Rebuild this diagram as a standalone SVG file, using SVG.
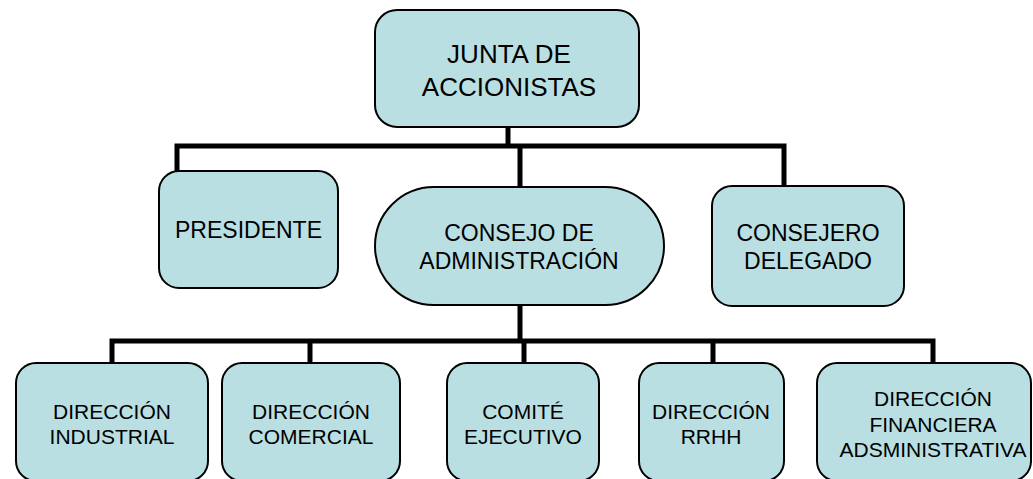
<svg xmlns="http://www.w3.org/2000/svg" width="1033" height="479" viewBox="0 0 1033 479">
<style>
.box{fill:#B9DFE3;stroke:#000;stroke-width:2}
.t{font-family:"Liberation Sans",Arial,sans-serif;fill:#000;text-anchor:middle}
.big{font-size:26px}
.mid{font-size:23px}
.sm{font-size:21px}
.c{stroke:#000;stroke-width:5;fill:none;stroke-linecap:square}
</style>
<rect width="1033" height="479" fill="#fff"/>
<g id="connectors">
<path class="c" d="M508 128V146M177 172V146H784V186M520 146V187"/>
<path class="c" d="M520 306V341M112 363V341H933V363M310 341V363M524 341V363M713 341V363"/>
</g>
<g id="junta">
<rect class="box" x="375" y="10" width="264" height="117" rx="22"/>
<text class="t big" x="509" y="63">JUNTA DE</text>
<text class="t big" x="509" y="96">ACCIONISTAS</text>
</g>
<g id="presidente">
<rect class="box" x="159" y="171" width="179" height="117" rx="20"/>
<text class="t mid" x="248.5" y="238">PRESIDENTE</text>
</g>
<g id="consejo">
<rect class="box" x="375" y="187" width="289" height="118" rx="59"/>
<text class="t mid" x="519" y="241">CONSEJO DE</text>
<text class="t mid" x="519" y="269">ADMINISTRACIÓN</text>
</g>
<g id="consejero">
<rect class="box" x="712" y="186" width="192" height="120" rx="20"/>
<text class="t mid" x="808" y="241">CONSEJERO</text>
<text class="t mid" x="808" y="269">DELEGADO</text>
</g>
<g id="industrial">
<rect class="box" x="16" y="363" width="192" height="118" rx="20"/>
<text class="t sm" x="112" y="419">DIRECCIÓN</text>
<text class="t sm" x="112" y="444">INDUSTRIAL</text>
</g>
<g id="comercial">
<rect class="box" x="222" y="363" width="178" height="118" rx="20"/>
<text class="t sm" x="311" y="419">DIRECCIÓN</text>
<text class="t sm" x="311" y="444">COMERCIAL</text>
</g>
<g id="comite">
<rect class="box" x="447" y="363" width="152" height="118" rx="20"/>
<text class="t sm" x="523" y="419">COMITÉ</text>
<text class="t sm" x="523" y="444">EJECUTIVO</text>
</g>
<g id="rrhh">
<rect class="box" x="639" y="363" width="145" height="118" rx="20"/>
<text class="t sm" x="711" y="419">DIRECCIÓN</text>
<text class="t sm" x="711" y="444">RRHH</text>
</g>
<g id="financiera">
<rect class="box" x="817" y="363" width="214" height="118" rx="20"/>
<text class="t sm" x="933" y="406">DIRECCIÓN</text>
<text class="t sm" x="933" y="432">FINANCIERA</text>
<text class="t sm" x="933" y="457">ADSMINISTRATIVA</text>
</g>
</svg>
